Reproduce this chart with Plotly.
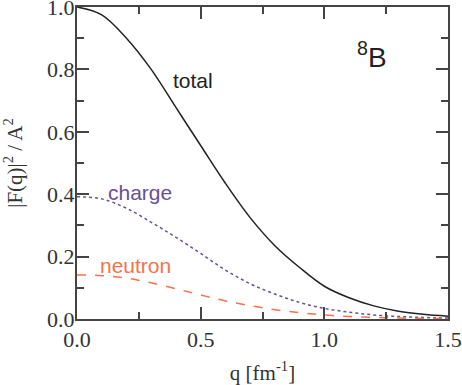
import plotly.graph_objects as go

# q in fm^-1
q = [0.0, 0.1, 0.2, 0.3, 0.4, 0.5, 0.6, 0.7, 0.8, 0.9, 1.0, 1.1, 1.2, 1.3, 1.4, 1.5]
total = [1.0, 0.975, 0.90, 0.80, 0.678, 0.556, 0.435, 0.325, 0.235, 0.165, 0.105,
         0.068, 0.042, 0.025, 0.015, 0.009]
charge = [0.392, 0.385, 0.355, 0.31, 0.262, 0.21, 0.157, 0.113, 0.08, 0.053, 0.034,
          0.022, 0.013, 0.008, 0.005, 0.003]
neutron = [0.141, 0.139, 0.131, 0.116, 0.097, 0.077, 0.058, 0.043, 0.030, 0.020, 0.013,
           0.008, 0.005, 0.003, 0.002, 0.001]

black = "#222222"
purple = "#6a5093"
orange = "#f4734a"

fig = go.Figure()
fig.add_trace(go.Scatter(x=q, y=total, mode="lines", line=dict(color=black, width=1.5, shape="spline")))
fig.add_trace(go.Scatter(x=q, y=charge, mode="lines", line=dict(color=purple, width=1.5, dash="dot", shape="spline")))
fig.add_trace(go.Scatter(x=q, y=neutron, mode="lines", line=dict(color=orange, width=1.5, dash="dash", shape="spline")))

sans = "Liberation Sans, Arial, sans-serif"
serif = "Liberation Serif, Times New Roman, serif"
fig.add_annotation(x=0.467, y=0.766, text="total", showarrow=False, font=dict(family=sans, size=21, color=black))
fig.add_annotation(x=0.255, y=0.407, text="charge", showarrow=False, font=dict(family=sans, size=21, color=purple))
fig.add_annotation(x=0.238, y=0.17, text="neutron", showarrow=False, font=dict(family=sans, size=21, color=orange))
fig.add_annotation(x=1.194, y=0.845, text="<sup>8</sup>B", showarrow=False, font=dict(family=sans, size=28, color=black))

axis_common = dict(
    showline=True, linecolor="#444444", linewidth=2, mirror="allticks",
    ticks="inside", ticklen=12, tickwidth=1.5, tickcolor="#444444",
    showgrid=False, zeroline=False, automargin=False, ticklabeloverflow="allow",
    tickfont=dict(family=serif, size=22, color="#333333"),
)

fig.update_xaxes(
    range=[0, 1.5], tickvals=[0, 0.5, 1.0, 1.5], ticktext=["0.0", "0.5", "1.0", "1.5"],
    minor=dict(tickvals=[0.25, 0.75, 1.25], ticklen=7, tickwidth=1.5, tickcolor="#444444", ticks="inside"),
    ticklabelstandoff=0,
    title=dict(text="q [fm<sup>-1</sup>]", font=dict(family=serif, size=21, color="#333333"), standoff=14),
    **axis_common,
)
fig.update_yaxes(
    range=[0, 1.0], tickvals=[0, 0.2, 0.4, 0.6, 0.8, 1.0],
    ticktext=["0.0", "0.2", "0.4", "0.6", "0.8", "1.0"],
    minor=dict(tickvals=[0.1, 0.3, 0.5, 0.7, 0.9], ticklen=7, tickwidth=1.5, tickcolor="#444444", ticks="inside"),
    ticklabelstandoff=-4,
    title=dict(text="|F(q)|<sup>2</sup> / A<sup>2</sup>", font=dict(family=serif, size=21, color="#333333"), standoff=26),
    **axis_common,
)

fig.update_layout(
    width=462, height=385,
    margin=dict(l=77, r=14, t=7, b=66),
    plot_bgcolor="white", paper_bgcolor="white",
    showlegend=False,
)

# drop the default 8px page margin so the figure sits at the window corner
fig.write_html("out.html", config={"displayModeBar": False},
               post_script="document.body.style.margin='0';")
